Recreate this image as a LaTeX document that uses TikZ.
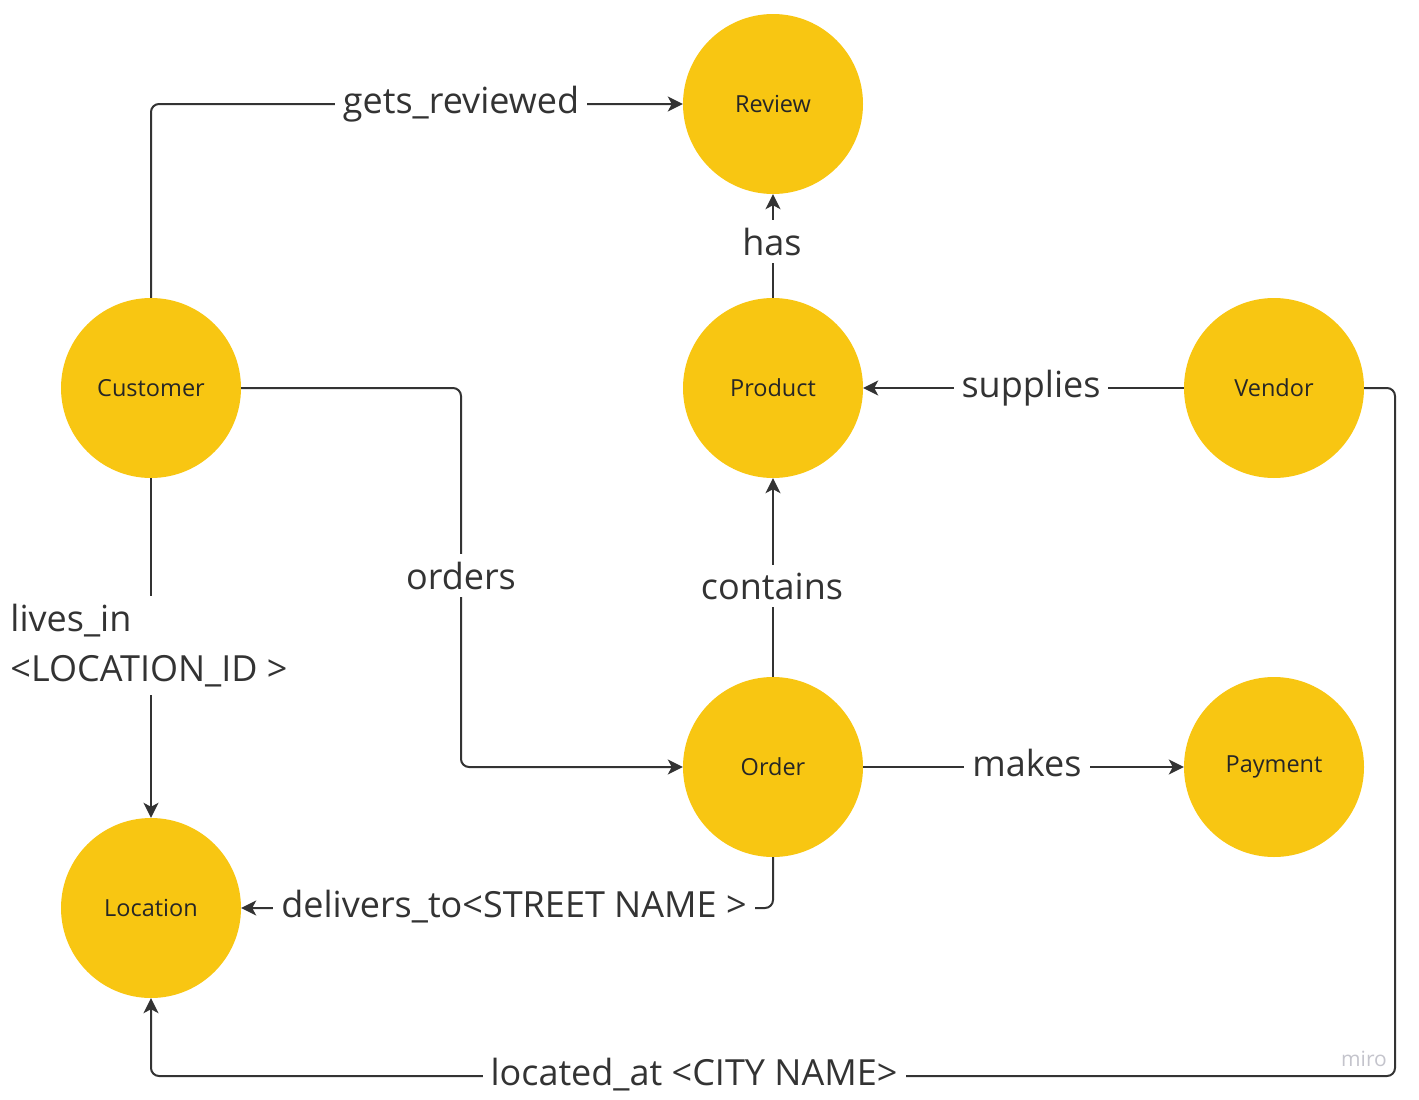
\documentclass[tikz,border=0pt]{standalone}
\usepackage{fontspec}
\setmainfont{Open Sans}
\usetikzlibrary{arrows.meta}
\definecolor{nodey}{RGB}{248,198,18}
\definecolor{ln}{RGB}{51,51,51}
\definecolor{mirogray}{RGB}{196,196,204}
\begin{document}
\begin{tikzpicture}[x=1pt,y=-1pt,
 ent/.style={circle,fill=nodey,minimum size=180pt,inner sep=0pt,font=\fontsize{23.5}{28}\selectfont,text={black!85}},
 conn/.style={draw=ln,line width=2pt,rounded corners=8pt},
 tip/.style={-{Stealth[length=15pt,width=15pt,inset=4pt]}},
 lbl/.style={fill=white,text=ln,font=\fontsize{36}{50}\selectfont,inner xsep=8pt,inner ysep=8pt,anchor=base},
 wm/.style={text=mirogray,font=\fontsize{21}{22}\selectfont,anchor=base,inner sep=0pt}
]
\useasboundingbox (0,0) rectangle (1419,1100);
\node[ent] (rev) at (773,104) {Review};
\node[ent] (cus) at (151,388) {Customer};
\node[ent] (prod) at (773,388) {Product};
\node[ent] (ven) at (1274,388) {Vendor};
\node[ent] (ord) at (773,767) {Order};
\node[ent] (pay) at (1274,767) {Payment};
\node[ent] (loc) at (151,908) {Location};
\coordinate (oX) at (461,578);
\coordinate (cX) at (1395,1076);

\draw[conn,tip] (cus.north) |- (rev.west);
\draw[conn,tip] (prod.north) -- (rev.south);
\draw[conn,tip] (ven.west) -- (prod.east);
\draw[conn,tip] (cus.east) -| (oX) |- (ord.west);
\draw[conn,tip] (ord.north) -- (prod.south);
\draw[conn,tip] (ord.east) -- (pay.west);
\draw[conn,tip] (cus.south) -- (loc.north);
\draw[conn,tip] (ord.south) |- (loc.east);
\draw[conn,tip] (ven.east) -| (cX) -| (loc.south);

\node[lbl] (l1) at (461,113) {gets\_reviewed};
\node[lbl] (l2) at (772,255) {has};
\node[lbl] (l3) at (1031,397) {supplies};
\node[lbl] (l4) at (461,589) {orders};
\node[lbl] (l5) at (772,599) {contains};
\node[lbl] (l6) at (1027,776) {makes};
\node[lbl,align=left,anchor=north] (l7) at (149,596) {lives\_in\\<LOCATION\_ID >};
\node[lbl] (l8) at (514,917) {delivers\_to<STREET NAME >};
\node[lbl] (l9) at (694,1085) {located\_at <CITY NAME>};
\node[wm] (wmk) at (1364,1066) {miro};
\end{tikzpicture}
\end{document}
